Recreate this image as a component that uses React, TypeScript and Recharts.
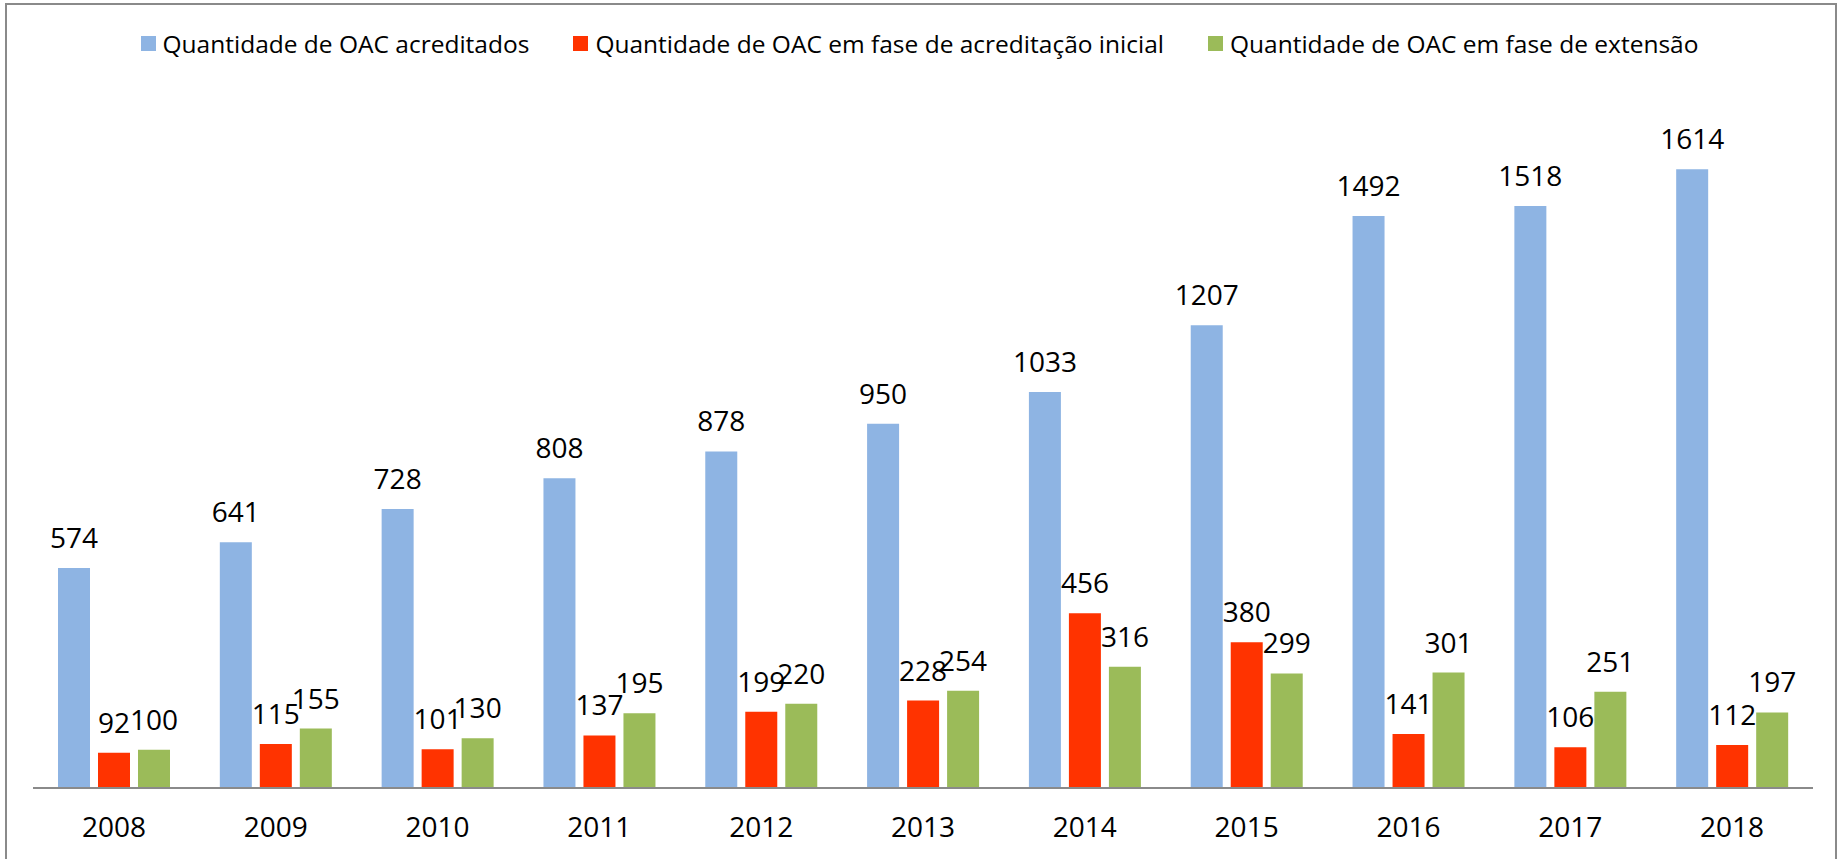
import { BarChart, Bar, XAxis, YAxis, LabelList } from 'recharts';

const years = ['2008', '2009', '2010', '2011', '2012', '2013', '2014', '2015', '2016', '2017', '2018'];
const acreditados = [574, 641, 728, 808, 878, 950, 1033, 1207, 1492, 1518, 1614];
const faseInicial = [92, 115, 101, 137, 199, 228, 456, 380, 141, 106, 112];
const faseExtensao = [100, 155, 130, 195, 220, 254, 316, 299, 301, 251, 197];

const series = [
  { key: 'acreditados', name: 'Quantidade de OAC acreditados', color: '#8EB4E3' },
  { key: 'inicial', name: 'Quantidade de OAC em fase de acreditação inicial', color: '#FF3300' },
  { key: 'extensao', name: 'Quantidade de OAC em fase de extensão', color: '#9BBB59' },
];

const font = '"Open Sans", sans-serif';

export default function App() {
  const data = years.map((year, i) => ({
    year,
    acreditados: acreditados[i],
    inicial: faseInicial[i],
    extensao: faseExtensao[i],
  }));

  return (
    <div
      style={{
        position: 'fixed',
        left: 0,
        top: 0,
        width: 1839,
        height: 859,
        background: '#fff',
        fontFamily: font,
      }}
    >
      <div
        style={{
          position: 'absolute',
          left: 5,
          top: 3,
          width: 1828,
          height: 900,
          borderLeft: '2px solid #8a8a8a',
          borderTop: '2px solid #8a8a8a',
          borderRight: '2px solid #8a8a8a',
        }}
      />
      <div
        style={{
          position: 'absolute',
          top: 27,
          left: 0,
          width: 1839,
          display: 'flex',
          justifyContent: 'center',
          gap: 44,
          fontSize: 24.5,
          color: '#000',
        }}
      >
        {series.map((s) => (
          <div key={s.key} style={{ display: 'flex', alignItems: 'center', gap: 7 }}>
            <span style={{ width: 15, height: 15, background: s.color, display: 'inline-block' }} />
            <span>{s.name}</span>
          </div>
        ))}
      </div>
      <BarChart
        width={1839}
        height={859}
        data={data}
        margin={{ top: 98, right: 26, left: 33, bottom: 0 }}
        barSize={32}
        barGap={8}
      >
        <XAxis
          dataKey="year"
          height={71}
          axisLine={{ stroke: '#8a8a8a', strokeWidth: 2 }}
          tickLine={false}
          tickSize={0}
          tickMargin={29}
          tick={{ fontSize: 28, fill: '#000', fontFamily: font }}
        />
        <YAxis hide domain={[0, 1800]} />
        {series.map((s) => (
          <Bar key={s.key} dataKey={s.key} name={s.name} fill={s.color} isAnimationActive={false}>
            <LabelList
              dataKey={s.key}
              position="top"
              offset={20}
              style={{ fontSize: 28, fill: '#000', fontFamily: font }}
            />
          </Bar>
        ))}
      </BarChart>
    </div>
  );
}
